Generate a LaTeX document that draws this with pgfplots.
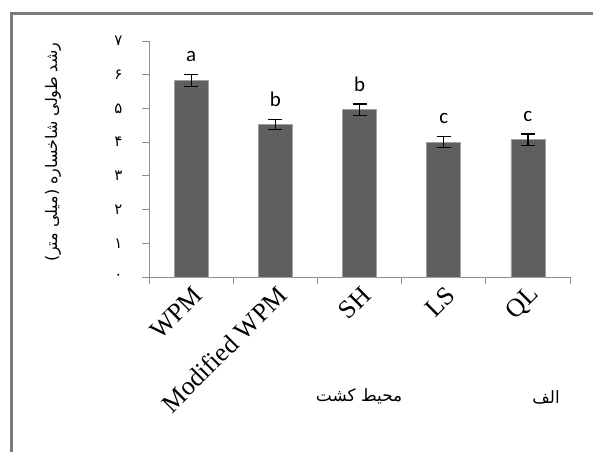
\documentclass[border=0pt]{standalone}
\usepackage{fontspec}
\setmainfont{Liberation Serif}
\newfontfamily\arabicfont[Script=Arabic]{DejaVu Sans}
\newfontfamily\calibri{Carlito}
\TeXXeTstate=1
\usepackage{pgfplots}
\pgfplotsset{compat=1.18}
\definecolor{bargray}{HTML}{5F5F5F}
\definecolor{baredge}{HTML}{A0A0A0}
\definecolor{axgray}{HTML}{8E8E8E}
\definecolor{framegray}{HTML}{7A7A7A}
\begin{document}
\begin{tikzpicture}[x=1bp,y=1bp]
\path[use as bounding box] (0,0) rectangle (593,-452);
\begin{axis}[
  at={(149bp,-277bp)}, anchor=south west,
  scale only axis, width=421bp, height=236bp,
  xmin=-0.5, xmax=4.5, ymin=0, ymax=7,
  axis x line*=bottom, axis y line*=left,
  axis line style={axgray, line width=0.9bp},
  tick align=outside,
  major tick length=7bp, minor tick length=7bp,
  xtick={0,1,2,3,4},
  xticklabels={WPM, Modified WPM, SH, LS, QL},
  minor xtick={-0.5,0.5,...,4.5},
  major x tick style={draw=none},
  minor x tick style={axgray, line width=0.9bp},
  ytick={0,1,2,3,4,5,6,7},
  yticklabels={۰,۱,۲,۳,۴,۵,۶,۷},
  ytick style={axgray, line width=0.9bp},
  yticklabel style={font=\arabicfont\fontsize{15}{17}\selectfont, xshift=-16bp},
  xticklabel style={font=\fontsize{26}{29}\selectfont, rotate=45, anchor=east, inner sep=0pt, yshift=-10bp},
  ylabel={\arabicfont\beginR رشد طولی شاخساره (میلی متر)\endR},
  ylabel style={at={(axis description cs:-0.228,0.53)}, anchor=center, font=\fontsize{16}{18}\selectfont},
  xlabel={\arabicfont\beginR محیط کشت\endR},
  xlabel style={at={(axis description cs:0.499,-0.504)}, anchor=center, font=\fontsize{17}{19}\selectfont},
  clip=false,
]
\addplot[ybar, bar width=34bp, fill=bargray, draw=baredge, line width=0.6bp,
  error bars/.cd, y dir=both, y explicit,
  error bar style={black, line width=1.2bp},
  error mark options={black, rotate=90, mark size=7bp, line width=1.2bp}]
  coordinates {(0,5.82) +- (0,0.18) (1,4.53) +- (0,0.15) (2,4.96) +- (0,0.17) (3,4.00) +- (0,0.17) (4,4.07) +- (0,0.17)};
\node[font=\calibri\fontsize{21}{24}\selectfont, anchor=base, yshift=13bp] at (axis cs:0,6.00) {a};
\node[font=\calibri\fontsize{21}{24}\selectfont, anchor=base, yshift=13bp] at (axis cs:1,4.68) {b};
\node[font=\calibri\fontsize{21}{24}\selectfont, anchor=base, yshift=13bp] at (axis cs:2,5.13) {b};
\node[font=\calibri\fontsize{21}{24}\selectfont, anchor=base, yshift=13bp] at (axis cs:3,4.17) {c};
\node[font=\calibri\fontsize{21}{24}\selectfont, anchor=base, yshift=13bp] at (axis cs:4,4.24) {c};
\end{axis}
\node[font=\arabicfont\fontsize{17}{19}\selectfont] at (546,-397) {\beginR الف\endR};
\draw[framegray, line width=3bp, line cap=rect] (11.5,-460) -- (11.5,-13.5) -- (600,-13.5);
\end{tikzpicture}
\end{document}
